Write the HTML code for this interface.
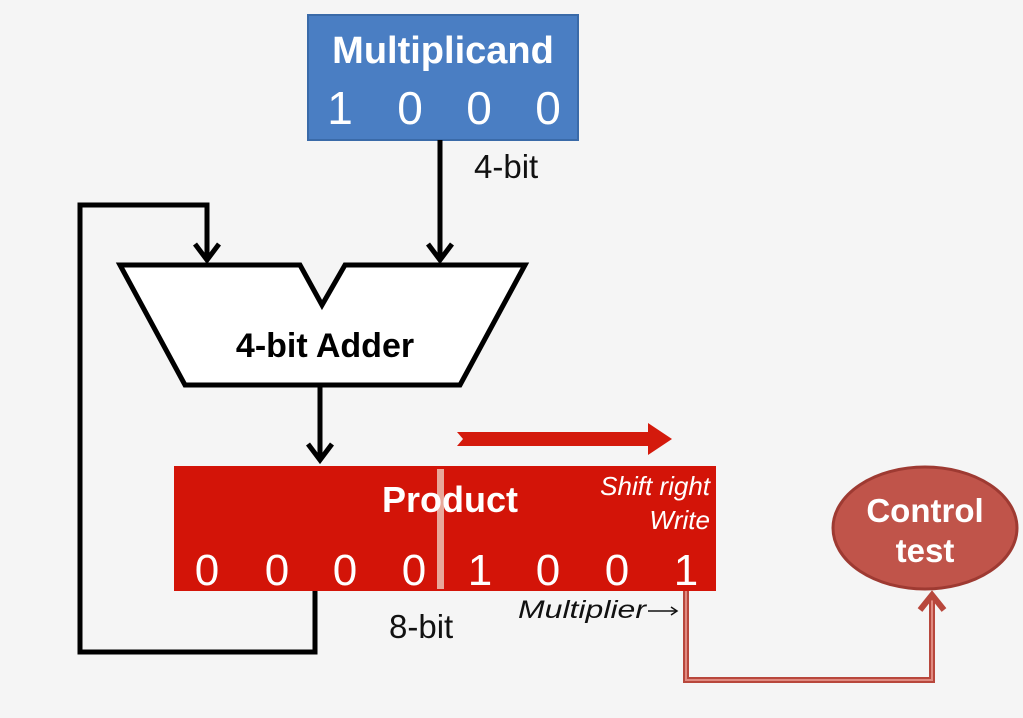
<!DOCTYPE html>
<html><head><meta charset="utf-8"><style>
html,body{margin:0;padding:0;background:#f5f5f5;}
svg{display:block;}
text{font-family:"Liberation Sans",sans-serif;}
</style></head><body>
<svg width="1023" height="718" viewBox="0 0 1023 718" xmlns="http://www.w3.org/2000/svg">
<rect width="1023" height="718" fill="#f5f5f5"/>
<rect x="308" y="15" width="270" height="125" fill="#4a7ec3" stroke="#3a6aa8" stroke-width="2"/>
<text x="443" y="63" font-size="38" font-weight="bold" fill="#fff" text-anchor="middle">Multiplicand</text>
<g font-size="46" fill="#fff" text-anchor="middle" style="font-family:'Liberation Mono',monospace">
<text x="340" y="124">1</text><text x="410" y="124">0</text><text x="479" y="124">0</text><text x="548" y="124">0</text>
</g>
<text x="474" y="178" font-size="33" fill="#111">4-bit</text>
<line x1="440" y1="140" x2="440" y2="258" stroke="#000" stroke-width="5"/>
<polyline points="428,244 440,260 452,244" fill="none" stroke="#000" stroke-width="5"/>
<polygon points="120,265 300,265 322,305 345,265 525,265 460,385 185,385" fill="#fff" stroke="#000" stroke-width="5" stroke-linejoin="miter"/>
<text x="325" y="357" font-size="34" font-weight="bold" fill="#000" text-anchor="middle">4-bit Adder</text>
<polyline points="315,591 315,652 80,652 80,205 207,205 207,258" fill="none" stroke="#000" stroke-width="5"/>
<polyline points="195,244 207,260 219,244" fill="none" stroke="#000" stroke-width="5"/>
<line x1="320" y1="387" x2="320" y2="458" stroke="#000" stroke-width="5"/>
<polyline points="308,444 320,460 332,444" fill="none" stroke="#000" stroke-width="5"/>
<polygon points="457,432 648,432 648,423 672,439 648,455 648,446 457,446 463,439" fill="#d41a0c"/>
<rect x="174" y="466" width="542" height="125" fill="#d31408"/>
<rect x="437" y="469" width="7" height="120" fill="#e8a89a"/>
<text x="450" y="512" font-size="36" font-weight="bold" fill="#fff" text-anchor="middle">Product</text>
<text x="710" y="495" font-size="26" font-style="italic" fill="#fff" text-anchor="end">Shift right</text>
<text x="710" y="529" font-size="26" font-style="italic" fill="#fff" text-anchor="end">Write</text>
<g font-size="44" fill="#fff" text-anchor="middle" style="font-family:'Liberation Mono',monospace">
<text x="207" y="585">0</text><text x="277" y="585">0</text><text x="345" y="585">0</text><text x="414" y="585">0</text>
<text x="480" y="585">1</text><text x="548" y="585">0</text><text x="617" y="585">0</text><text x="686" y="585">1</text>
</g>
<text x="389" y="638" font-size="33" fill="#111">8-bit</text>
<text x="518" y="618" font-size="25" font-style="italic" fill="#111" textLength="128" lengthAdjust="spacingAndGlyphs">Multiplier</text>
<line x1="648" y1="611" x2="676" y2="611" stroke="#111" stroke-width="1.5"/>
<polyline points="671,607 677,611 671,615" fill="none" stroke="#111" stroke-width="1.5"/>
<polyline points="686,591 686,680 932,680 932,598" fill="none" stroke="#b8473c" stroke-width="6"/>
<polyline points="686,591 686,680 932,680 932,598" fill="none" stroke="#e08a80" stroke-width="2"/>
<polyline points="920,610 932,595 944,610" fill="none" stroke="#b8473c" stroke-width="6"/>
<ellipse cx="925" cy="528" rx="92" ry="61" fill="#c0544a" stroke="#9e3a32" stroke-width="3"/>
<text x="925" y="522" font-size="33" font-weight="bold" fill="#fff" text-anchor="middle">Control</text>
<text x="925" y="562" font-size="33" font-weight="bold" fill="#fff" text-anchor="middle">test</text>
</svg>
</body></html>
